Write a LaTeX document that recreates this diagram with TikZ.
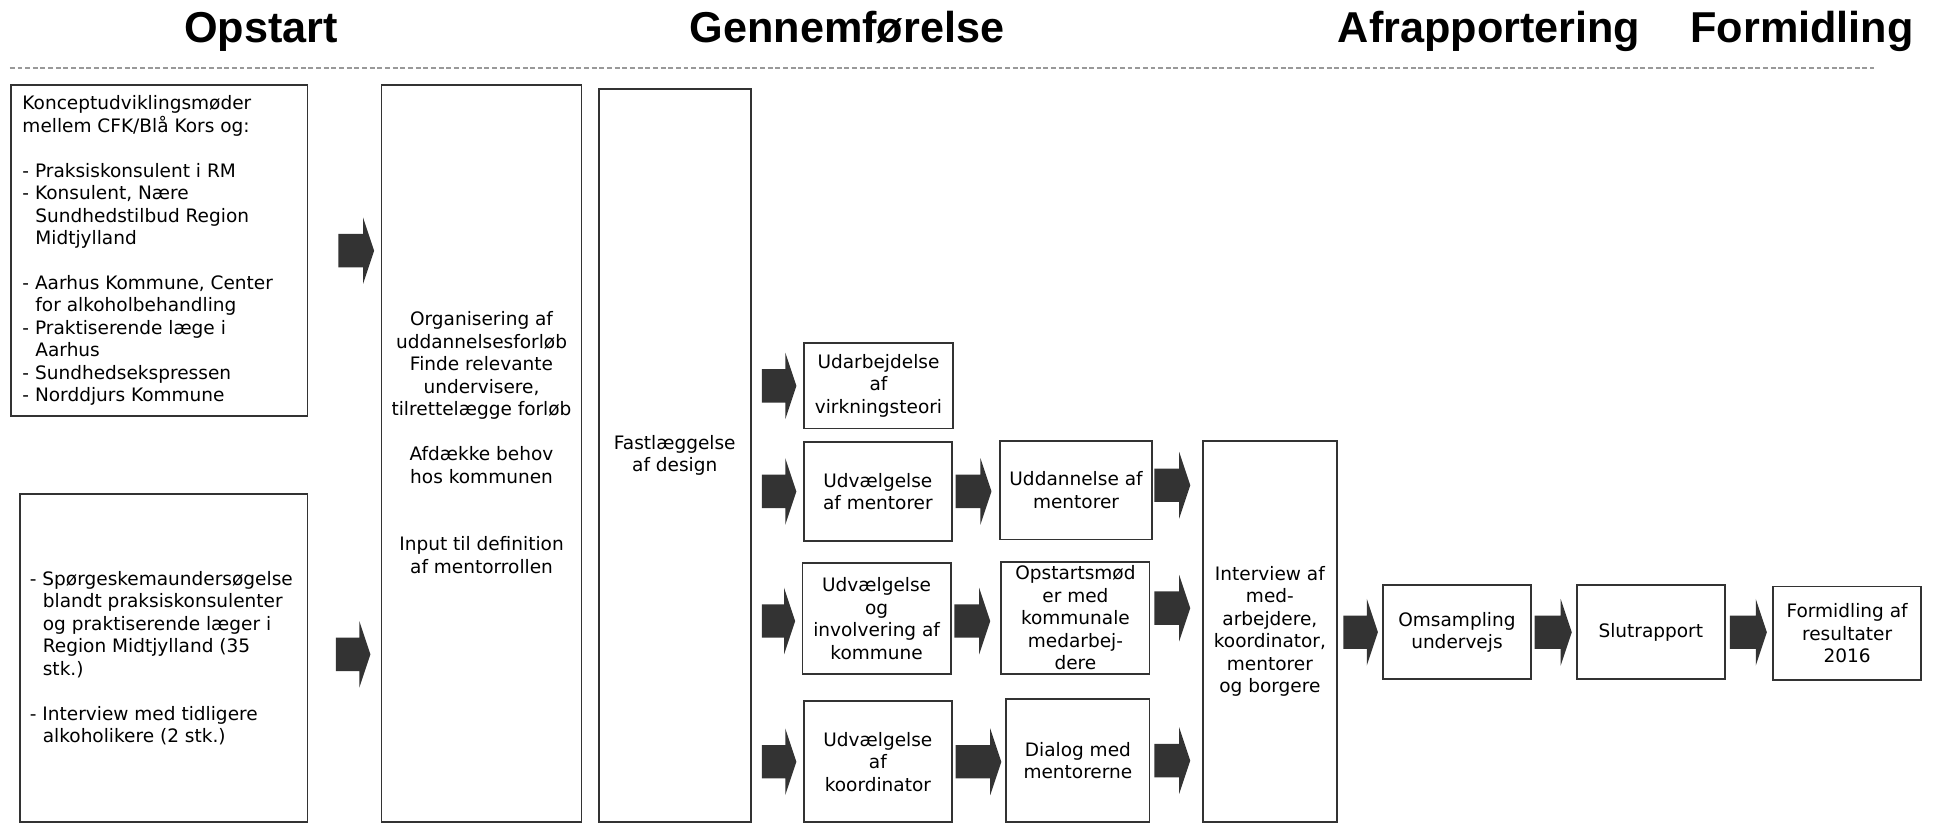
\documentclass[tikz,border=0pt]{standalone}
\usepackage{fontspec}
\setmainfont{DejaVu Sans}
\newfontfamily\titlefont{Liberation Sans}
\usetikzlibrary{calc}
\definecolor{dk}{HTML}{333333}
\definecolor{dashgray}{HTML}{999999}
\newcommand\bodyfont{\fontsize{15pt}{18.2pt}\selectfont}
\newcommand\ind{\hspace*{10.5pt}}
% block arrow: #1 source node, #2 target node, #3 y reference, #4 tail gap, #5 tip gap
\newcommand\blockarrow[5]{%
  \fill[blk] let \p1=(#1.east), \p2=(#2.west), \p3=(#3) in
  (\x1+#4pt,\y3+13.5pt) -- (\x2-#5pt-9pt,\y3+13.5pt) -- (\x2-#5pt-9pt,\y3+27pt)
  -- (\x2-#5pt,\y3) -- (\x2-#5pt-9pt,\y3-27pt) -- (\x2-#5pt-9pt,\y3-13.5pt)
  -- (\x1+#4pt,\y3-13.5pt) -- cycle;}
\begin{document}
\begin{tikzpicture}[x=1pt,y=-1pt,
  box/.style={draw=dk,line width=1.5pt,inner sep=0pt,outer sep=0pt,align=center,font=\bodyfont,anchor=north west},
  txt/.style={inner sep=0pt,font=\bodyfont},
  title/.style={inner sep=0pt,anchor=base,font=\titlefont\bfseries\fontsize{35pt}{40pt}\selectfont},
  blk/.style={fill=dk},
  sep/.style={draw=dashgray,line width=1.2pt,dash pattern=on 4pt off 2.2pt}]
\useasboundingbox (0,0) rectangle (1568,667);

% titles
\node[title] (t1) at (211.5,34.5) {Opstart};
\node[title] (t2) at (686,34.5) {Gennemførelse};
\node[title] (t3) at (1206,34.5) {Afrapportering};
\node[title] (t4) at (1459.5,34.5) {Formidling};
\coordinate (sepL) at (8,55);
\coordinate (sepR) at (1518,55);
\draw[sep] (sepL) -- (sepR);

% boxes
\node[box,minimum width=240,minimum height=268] (A) at (9,69) {};
\node[txt,anchor=west,align=left] (At) at ($(A.west)+(9,0)$) {Konceptudviklingsmøder\\
mellem CFK/Blå Kors og:\\[18.2pt]
- Praksiskonsulent i RM\\
- Konsulent, Nære\\
\ind Sundhedstilbud Region\\
\ind Midtjylland\\[18.2pt]
- Aarhus Kommune, Center\\
\ind for alkoholbehandling\\
- Praktiserende læge i\\
\ind Aarhus\\
- Sundhedsekspressen\\
- Norddjurs Kommune};

\node[box,minimum width=233,minimum height=266] (B) at (16,400) {};
\node[txt,anchor=west,align=left] (Bt) at ($(B.west)+(8,0)$) {- Spørgeskemaundersøgelse\\
\ind blandt praksiskonsulenter\\
\ind og praktiserende læger i\\
\ind Region Midtjylland (35\\
\ind stk.)\\[18.2pt]
- Interview med tidligere\\
\ind alkoholikere (2 stk.)};

\node[box,minimum width=162,minimum height=597] (C) at (309,69) {};
\node[txt,align=center] (Ct) at ($(C.center)+(0,-9)$) {Organisering af\\
uddannelsesforløb\\
Finde relevante\\
undervisere,\\
tilrettelægge forløb\\[18.2pt]
Afdække behov\\
hos kommunen\\[36.4pt]
Input til definition\\
af mentorrollen};

\node[box,minimum width=123,minimum height=594] (D) at (485,72) {Fastlæggelse\\af design};

\node[box,minimum width=121,minimum height=69] (E1) at (651,278) {Udarbejdelse\\af\\virkningsteori};
\node[box,minimum width=120,minimum height=80] (E2) at (651,358) {Udvælgelse\\af mentorer};
\node[box,minimum width=120,minimum height=90] (E3) at (650,456) {Udvælgelse\\og\\involvering af\\kommune};
\node[box,minimum width=120,minimum height=98] (E4) at (651,568) {Udvælgelse\\af\\koordinator};

\node[box,minimum width=123,minimum height=80] (F1) at (810,357) {Uddannelse af\\mentorer};
\node[box,minimum width=120,minimum height=91] (F2) at (811,455) {Opstartsmød\\er med\\kommunale\\medarbej-\\dere};
\node[box,minimum width=116,minimum height=100] (F3) at (815,566) {Dialog med\\mentorerne};

\node[box,minimum width=109,minimum height=309] (G) at (974,357) {Interview af\\med-\\arbejdere,\\koordinator,\\mentorer\\og borgere};

\node[box,minimum width=120,minimum height=76] (H) at (1120,474) {Omsampling\\undervejs};
\node[box,minimum width=120,minimum height=76] (I) at (1277,474) {Slutrapport};
\node[box,minimum width=120,minimum height=76] (J) at (1436,475) {Formidling af\\resultater\\2016};

% block arrows
\blockarrow{A}{C}{A.center}{25}{6}
\blockarrow{B}{C}{$(B.center)+(0,-3)$}{23}{9}
\blockarrow{D}{E1}{E1.center}{9}{6}
\blockarrow{D}{E2}{E2.center}{9}{6}
\blockarrow{D}{E3}{$(E3.center)+(0,2)$}{9}{6}
\blockarrow{D}{E4}{E4.center}{9}{6}
\blockarrow{E2}{F1}{E2.center}{3}{7}
\blockarrow{E3}{F2}{$(E3.center)+(0,2)$}{3}{9}
\blockarrow{E4}{F3}{E4.center}{3}{4}
\blockarrow{F1}{G}{$(F1.center)+(0,-4)$}{2}{10}
\blockarrow{F2}{G}{$(F2.center)+(0,-8)$}{4}{10}
\blockarrow{F3}{G}{F3.center}{4}{10}
\blockarrow{G}{H}{H.center}{5}{4}
\blockarrow{H}{I}{H.center}{3}{4}
\blockarrow{I}{J}{I.center}{4}{5}
\end{tikzpicture}
\end{document}
